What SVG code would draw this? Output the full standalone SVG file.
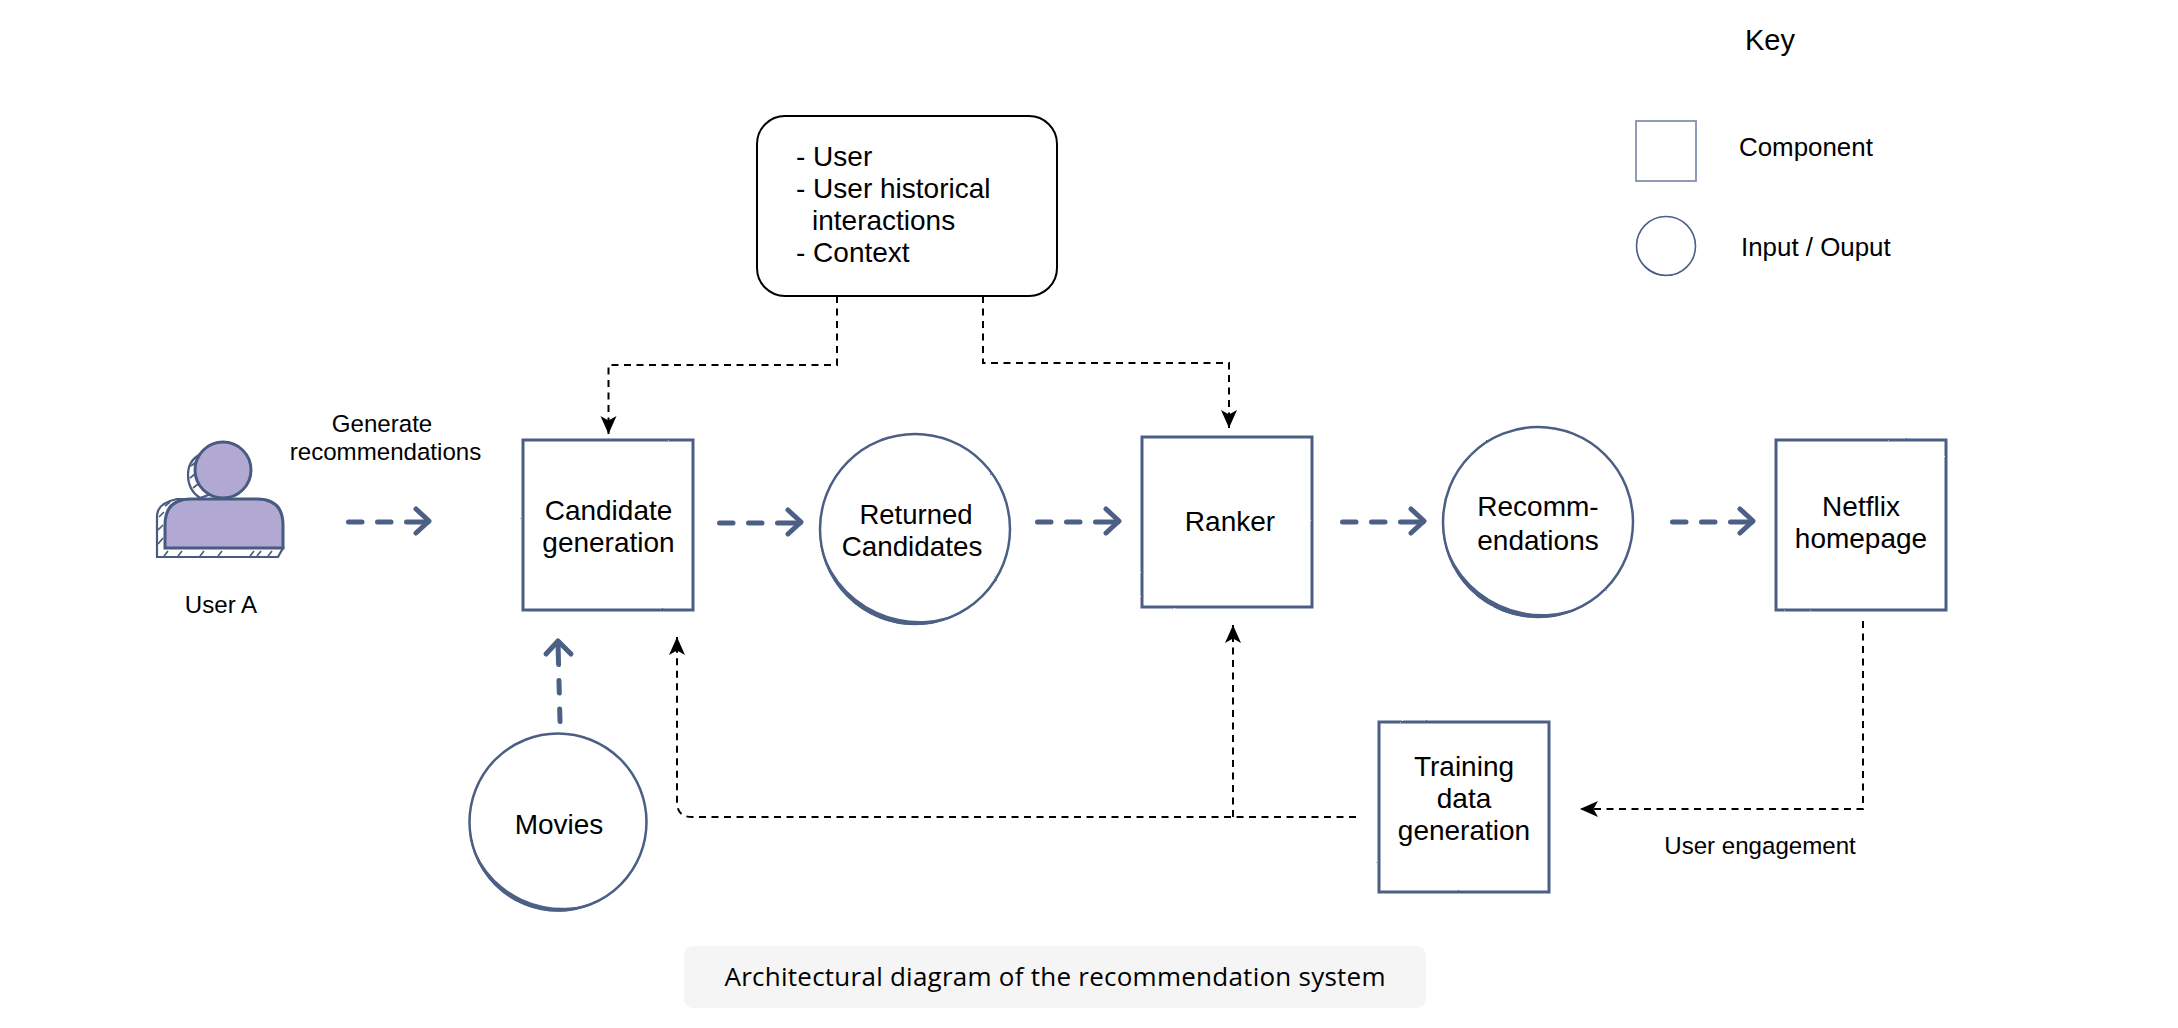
<svg xmlns="http://www.w3.org/2000/svg" width="2178" height="1028" viewBox="0 0 2178 1028">
<style>
text{font-family:"Liberation Sans",Arial,sans-serif;fill:#000;text-anchor:middle;font-size:28px}
.sm{font-size:24.100px}
.left{text-anchor:start}
.key{font-size:25.900px}
.box{fill:#fff;stroke:#4c5f85;stroke-width:3;filter:url(#rough)}
.shape{fill:#fff;stroke:#4c5f85;stroke-width:2.500;filter:url(#rough)}
.thick{fill:none;stroke:#4c5f85;stroke-width:5;stroke-linecap:round;stroke-linejoin:round;stroke-dasharray:13.500 15.500 13.500 15.500 70}
.head{fill:none;stroke:#4c5f85;stroke-width:5;stroke-linecap:round;stroke-linejoin:round}
.thin{fill:none;stroke:#000;stroke-width:2;stroke-dasharray:7 5.500}
.user{fill:#b1a9d1;stroke:#4a5b82;stroke-width:3}
.hatch{fill:#fff;stroke:#4a5b82;stroke-width:2.200}
.tick{fill:none;stroke:#4a5b82;stroke-width:1.700}
.cres{fill:#4c5f85}
</style>
<defs>
<filter id="rough" x="-5%" y="-5%" width="110%" height="110%">
<feTurbulence type="fractalNoise" baseFrequency="0.5" numOctaves="2" seed="4"/>
<feDisplacementMap in="SourceGraphic" scale="1.600" xChannelSelector="R" yChannelSelector="G"/>
</filter>
<path id="crescent" d="M-99.62 8.72A100 100 0 0 0 57.36 81.92A106 106 0 0 1-99.62 8.72Z"/>
<marker id="tip" viewBox="0 0 20 20" refX="19" refY="10" markerWidth="20" markerHeight="20" markerUnits="userSpaceOnUse" orient="auto">
<path d="M19 10L1 2L5.500 10L1 18Z" fill="#000"/>
</marker>
</defs>

<g id="connectors">
<path class="thick" d="M348.500 522H428"/><path class="head" d="M416 509L429 521L416 533"/>
<path class="thick" d="M719.500 523H800"/><path class="head" d="M788 510L801 522L788 534"/>
<path class="thick" d="M1037.500 522H1118"/><path class="head" d="M1106 509L1119 521L1106 533"/>
<path class="thick" d="M1342.500 522H1423"/><path class="head" d="M1411 509L1424 521L1411 533"/>
<path class="thick" d="M1672.500 522H1752"/><path class="head" d="M1740 509L1753 521L1740 533"/>
<path class="thick" style="stroke-dasharray:12.500 16 12.500 16 60" d="M560 721.500L558 642"/><path class="head" d="M546 654L558 641L571 654"/>
<path class="thin" marker-end="url(#tip)" d="M837 296V365H608.500V434"/>
<path class="thin" marker-end="url(#tip)" d="M983 296V363H1229V428"/>
<path class="thin" marker-end="url(#tip)" d="M1863 621V809H1580"/>
<path class="thin" marker-end="url(#tip)" d="M1356 817H692Q677 817 677 802V637"/>
<path class="thin" marker-end="url(#tip)" d="M1233 817V625"/>
</g>

<g id="user-a">
<path class="hatch" d="M199 455Q188 461 188 475Q188 490 200 498L222 490L212 458Z"/>
<path class="tick" d="M190 478L195 474M191 466L196 462M193 488L198 484M196 459L200 456"/>
<path class="hatch" d="M157 557V515Q158 503 177 499H200V548H283L278 557Z"/>
<path class="tick" d="M158 544L163 538M158 530L163 525M159 517L164 512M165 506L170 502M164 556L168 551M178 556L182 551M200 556L204 551M218 556L222 551M250 556L254 551M257 556L261 551M268 556L272 551"/>
<path class="user" d="M165 548V525Q165 499 191 499H257Q283 499 283 525V548Z"/>
<circle class="user" cx="223" cy="470" r="28"/>
<text class="sm" x="221" y="613">User A</text>
</g>
<g id="generate-label">
<text class="sm" x="382" y="432">Generate</text>
<text class="sm" x="385.500" y="460">recommendations</text>
</g>

<g id="candidate-generation">
<rect class="box" x="523" y="440" width="170" height="170"/>
<text x="608.500" y="520">Candidate</text><text x="608.500" y="552">generation</text>
</g>
<g id="returned-candidates">
<circle class="shape" cx="915" cy="529" r="95"/><use href="#crescent" class="cres" transform="translate(915 529) scale(.96)"/>
<text x="916" y="524" style="font-size:27.500px">Returned</text><text x="912" y="556" style="font-size:27.800px">Candidates</text>
</g>
<g id="ranker">
<rect class="box" x="1142" y="437" width="170" height="170"/>
<text x="1230" y="531">Ranker</text>
</g>
<g id="recommendations">
<circle class="shape" cx="1538" cy="522" r="95"/><use href="#crescent" class="cres" transform="translate(1538 522) scale(.96)"/>
<text x="1538" y="516">Recomm-</text><text x="1538" y="550">endations</text>
</g>
<g id="netflix-homepage">
<rect class="box" x="1776" y="440" width="170" height="170"/>
<text x="1861" y="516">Netflix</text><text x="1861" y="548">homepage</text>
</g>
<g id="movies">
<circle class="shape" cx="558" cy="822" r="88.500"/><use href="#crescent" class="cres" transform="translate(558 822) scale(.895)"/>
<text x="559" y="834">Movies</text>
</g>
<g id="training-data-generation">
<rect class="box" x="1379" y="722" width="170" height="170"/>
<text x="1464" y="776">Training</text><text x="1464" y="808">data</text><text x="1464" y="840">generation</text>
</g>
<g id="context-box">
<rect x="757" y="116" width="300" height="180" rx="28" fill="#fff" stroke="#000" stroke-width="2"/>
<text class="left" x="796" y="166">- User</text>
<text class="left" x="796" y="198">- User historical</text>
<text class="left" x="812" y="230">interactions</text>
<text class="left" x="796" y="262">- Context</text>
</g>
<g id="user-engagement"><text class="sm" x="1760" y="854">User engagement</text></g>

<g id="key">
<text x="1770" y="50" style="font-size:29px">Key</text>
<rect x="1636" y="121" width="60" height="60" fill="#fff" stroke="#8492b0" stroke-width="1.800"/>
<text class="left key" x="1739" y="156">Component</text>
<circle cx="1666" cy="246" r="29.500" fill="#fff" stroke="#4c5f85" stroke-width="1.600"/><use href="#crescent" class="cres" transform="translate(1666 246) scale(.3)"/>
<text class="left key" x="1741" y="256">Input / Ouput</text>
</g>

<g id="caption">
<rect x="684" y="946" width="742" height="62" rx="9" fill="#f5f5f5"/>
<text x="1055" y="986" style="font-family:'Open Sans',sans-serif;font-size:26px" textLength="661">Architectural diagram of the recommendation system</text>
</g>
</svg>
